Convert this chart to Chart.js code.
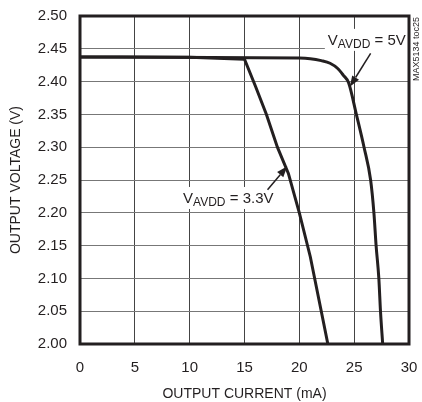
<!DOCTYPE html>
<html>
<head>
<meta charset="utf-8">
<script src="https://cdn.jsdelivr.net/npm/chart.js@4/dist/chart.umd.min.js"></script>
<style>
  html, body { margin: 0; background: #fff; }
  #wrap { width: 422px; height: 402px; }
</style>
</head>
<body>
<div id="wrap"><canvas id="chart"></canvas></div>
<script>
const FONT = "'Liberation Sans', Arial, sans-serif";
const INK = "#231f20";

// output current (mA) / output voltage (V)
const current33 = [0, 10, 15, 16, 17, 18, 19, 20, 21, 22, 22.6];
const voltage33 = [2.4375, 2.437, 2.434, 2.393, 2.35, 2.30, 2.26, 2.20, 2.133, 2.05, 2.00];

const current5 = [0, 20, 21, 22, 22.8, 23.5, 24, 24.5, 25.2, 25.9, 26.5, 26.8, 27.0, 27.25, 27.4, 27.6];
const voltage5 = [2.4375, 2.436, 2.435, 2.432, 2.428, 2.42, 2.41, 2.398, 2.35, 2.30, 2.25, 2.20, 2.15, 2.10, 2.05, 2.00];

const xTicks = [0, 5, 10, 15, 20, 25, 30];
const yTicks = [2.00, 2.05, 2.10, 2.15, 2.20, 2.25, 2.30, 2.35, 2.40, 2.45, 2.50];

const callouts = [
  { tail: "= 5V", x: 22.6, y: 2.456, from: [26.5, 2.443], to: [24.6, 2.392] },
  { tail: "= 3.3V", x: 9.4, y: 2.215, from: [17.1, 2.235], to: [18.9, 2.271] },
];

const toPoints = (xs, ys) => xs.map((x, i) => ({ x, y: ys[i] }));

// drop the label overhang so layout.padding alone places the plot box
const noOverhang = s => {
  s.paddingTop = 0;
  s.paddingBottom = 0;
  s.paddingLeft = 0;
  s.paddingRight = 0;
};

const frame = {
  id: "frame",
  afterDraw(chart) {
    const { ctx, chartArea: a } = chart;
    ctx.save();
    ctx.strokeStyle = INK;
    ctx.lineWidth = 3;
    ctx.strokeRect(a.left, a.top, a.right - a.left, a.bottom - a.top);
    ctx.restore();
  },
};

const notes = {
  id: "notes",
  afterDatasetsDraw(chart) {
    const { ctx, scales: { x, y } } = chart;
    ctx.save();
    ctx.fillStyle = INK;
    ctx.strokeStyle = INK;
    callouts.forEach(c => {
      const px = x.getPixelForValue(c.x);
      const py = y.getPixelForValue(c.y);
      ctx.font = "15px " + FONT;
      const wV = ctx.measureText("V").width;
      const wT = ctx.measureText(" " + c.tail).width;
      ctx.font = "12px " + FONT;
      const wS = ctx.measureText("AVDD").width;
      ctx.fillStyle = "#fff";
      ctx.fillRect(px - 3, py - 16, wV + wS + wT + 6, 22);
      ctx.fillStyle = INK;
      ctx.textBaseline = "alphabetic";
      ctx.textAlign = "left";
      ctx.font = "15px " + FONT;
      ctx.fillText("V", px, py);
      ctx.font = "12px " + FONT;
      ctx.fillText("AVDD", px + wV, py + 3);
      ctx.font = "15px " + FONT;
      ctx.fillText(" " + c.tail, px + wV + wS, py);

      // arrow
      const x0 = x.getPixelForValue(c.from[0]), y0 = y.getPixelForValue(c.from[1]);
      const x1 = x.getPixelForValue(c.to[0]), y1 = y.getPixelForValue(c.to[1]);
      const ang = Math.atan2(y1 - y0, x1 - x0);
      const len = 11, half = 4;
      const bx = x1 - len * Math.cos(ang), by = y1 - len * Math.sin(ang);
      ctx.lineWidth = 1.5;
      ctx.beginPath();
      ctx.moveTo(x0, y0);
      ctx.lineTo(bx, by);
      ctx.stroke();
      ctx.beginPath();
      ctx.moveTo(x1, y1);
      ctx.lineTo(bx + half * Math.sin(ang), by - half * Math.cos(ang));
      ctx.lineTo(bx - half * Math.sin(ang), by + half * Math.cos(ang));
      ctx.closePath();
      ctx.fill();
    });

    // figure id, rotated at the right edge
    ctx.translate(chart.width - 3, chart.chartArea.top + 1);
    ctx.rotate(-Math.PI / 2);
    ctx.font = "9px " + FONT;
    ctx.textAlign = "right";
    ctx.textBaseline = "alphabetic";
    ctx.fillText("MAX5134 toc25", 0, 0);
    ctx.restore();
  },
};

new Chart(document.getElementById("chart"), {
  type: "line",
  data: {
    datasets: [
      {
        data: toPoints(current33, voltage33),
        borderColor: INK,
        borderWidth: 3,
        pointRadius: 0,
        tension: 0,
      },
      {
        data: toPoints(current5, voltage5),
        borderColor: INK,
        borderWidth: 3,
        pointRadius: 0,
        cubicInterpolationMode: "monotone",
      },
    ],
  },
  options: {
    responsive: true,
    maintainAspectRatio: false,
    animation: false,
    layout: { padding: { top: 16, right: 13, left: 0, bottom: 0 } },
    plugins: { legend: { display: false }, tooltip: { enabled: false } },
    scales: {
      x: {
        type: "linear",
        min: 0,
        max: 30,
        afterBuildTicks: s => { s.ticks = xTicks.map(v => ({ value: v })); },
        afterFit: s => { s.height = 58; noOverhang(s); },
        grid: { color: "#444", lineWidth: 1, drawTicks: false },
        border: { display: false },
        ticks: { color: INK, padding: 15, font: { family: FONT, size: 15 } },
        title: {
          display: true,
          text: "OUTPUT CURRENT (mA)",
          color: INK,
          padding: { top: 0, bottom: 1 },
          font: { family: FONT, size: 14, lineHeight: 1 },
        },
      },
      y: {
        type: "linear",
        min: 2.0,
        max: 2.5,
        afterBuildTicks: s => { s.ticks = yTicks.map(v => ({ value: v })); },
        afterFit: s => { s.width = 80; noOverhang(s); },
        grid: { color: "#777", lineWidth: 1, drawTicks: false },
        border: { display: false },
        ticks: {
          color: INK,
          padding: 13,
          font: { family: FONT, size: 15 },
          callback: v => v.toFixed(2),
        },
        title: {
          display: true,
          text: "OUTPUT VOLTAGE (V)",
          color: INK,
          padding: { top: 9, bottom: 0 },
          font: { family: FONT, size: 14, lineHeight: 1 },
        },
      },
    },
  },
  plugins: [frame, notes],
});
</script>
</body>
</html>
